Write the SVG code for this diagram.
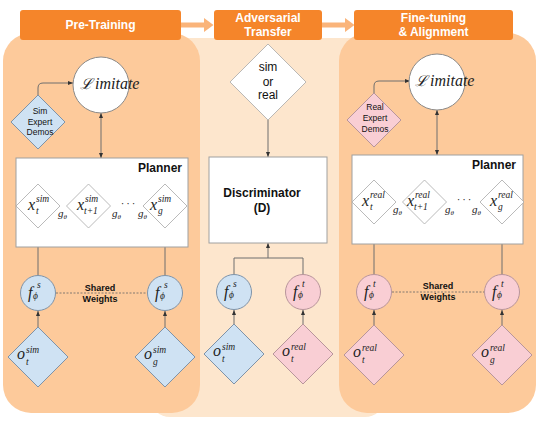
<svg xmlns="http://www.w3.org/2000/svg" width="541" height="421" viewBox="0 0 541 421">
<defs>
<marker id="ar" viewBox="0 0 10 10" refX="10" refY="5" markerWidth="5" markerHeight="5" orient="auto-start-reverse"><path d="M0,1 L10,5 L0,9 z" fill="#333"/></marker>
<style>
.hdr{fill:#f5852a}
.hdrt{font-family:"Liberation Sans",Arial,sans-serif;font-weight:bold;font-size:12px;fill:#fff;text-anchor:middle}
.harr{fill:#fab47a}
.panel{fill:#fdca9b}
.mid{fill:#fde6cd}
.box{fill:#fff;stroke:#a0a0a0;stroke-width:1}
.dw{fill:#fff;stroke:#a8a8a8;stroke-width:0.8}
.blue{fill:#cfe2f3;stroke:#7f93a8;stroke-width:1}
.pink{fill:#f9ced4;stroke:#b8959b;stroke-width:1}
.cw{fill:#fff;stroke:#8a8a8a;stroke-width:1}
.ln{fill:none;stroke:#6e6e6e;stroke-width:1}
.dot{fill:none;stroke:#666;stroke-width:0.8;stroke-dasharray:2,1.5}
.sans{font-family:"Liberation Sans",Arial,sans-serif;fill:#111}
.bold{font-weight:bold}
.m{font-family:"Liberation Serif","Times New Roman",serif;font-style:italic;fill:#222;font-size:16px}
.sm{font-size:9.5px}
.g{font-size:11px}
.th{font-size:7px}
.cal{font-family:"DejaVu Serif","Liberation Serif",serif;font-style:italic;font-size:15px;fill:#222}
</style>
</defs>
<rect width="541" height="421" fill="#fff"/>
<g id="backgrounds">
<rect class="mid" x="150" y="38" width="235" height="379" rx="20"/>
<rect class="panel" x="3" y="33" width="197" height="380" rx="28"/>
<rect class="panel" x="339" y="33" width="197" height="380" rx="28"/>
</g>
<g id="headers">
<path class="harr" d="M181,22.5 H204 V18 L213.5,25 L204,32 V27.5 H181 Z"/>
<path class="harr" d="M322,22.5 H345 V18 L354.5,25 L345,32 V27.5 H322 Z"/>
<g id="h-pretraining"><rect class="hdr" x="20" y="10" width="161" height="30" rx="3"/><text class="hdrt" x="100.5" y="29">Pre-Training</text></g>
<g id="h-adversarial"><rect class="hdr" x="214" y="10" width="108" height="30" rx="3"/><text class="hdrt"><tspan x="268" y="21.5">Adversarial</tspan><tspan x="268" y="36">Transfer</tspan></text></g>
<g id="h-finetuning"><rect class="hdr" x="354" y="10" width="159" height="30" rx="3"/><text class="hdrt"><tspan x="433.5" y="21.5">Fine-tuning</tspan><tspan x="433.5" y="36">&amp; Alignment</tspan></text></g>
</g>
<g id="connectors">
<path class="ln" d="M38,95 V88 Q38,83 43,83 H73" marker-end="url(#ar)"/>
<path class="ln" d="M101,113 V158" marker-start="url(#ar)" marker-end="url(#ar)"/>
<path class="ln" d="M38,275 V228" marker-end="url(#ar)"/>
<path class="ln" d="M165,275 V228" marker-end="url(#ar)"/>
<path class="ln" d="M38,327 V311" marker-end="url(#ar)"/>
<path class="ln" d="M165,327 V311" marker-end="url(#ar)"/>
<path class="dot" d="M56,293 H147"/>
<path class="ln" d="M59,206 H66.5" marker-end="url(#ar)"/>
<path class="ln" d="M110,206 H118" marker-end="url(#ar)"/>
<path class="ln" d="M136,206 H143" marker-end="url(#ar)"/>
<path class="ln" d="M268,120 V157" marker-end="url(#ar)"/>
<path class="ln" d="M234,274.5 V258 H303 V274.5"/>
<path class="ln" d="M268,258 V243" marker-end="url(#ar)"/>
<path class="ln" d="M234,324 V310" marker-end="url(#ar)"/>
<path class="ln" d="M303,324 V310" marker-end="url(#ar)"/>
<path class="ln" d="M374,93 V86 Q374,81 379,81 H410" marker-end="url(#ar)"/>
<path class="ln" d="M437,110 V155" marker-start="url(#ar)" marker-end="url(#ar)"/>
<path class="ln" d="M374,274 V224" marker-end="url(#ar)"/>
<path class="ln" d="M502,274 V224" marker-end="url(#ar)"/>
<path class="ln" d="M374,325 V310" marker-end="url(#ar)"/>
<path class="ln" d="M502,325 V310" marker-end="url(#ar)"/>
<path class="dot" d="M392,292 H484"/>
<path class="ln" d="M396,202 H402.5" marker-end="url(#ar)"/>
<path class="ln" d="M447,202 H455" marker-end="url(#ar)"/>
<path class="ln" d="M472,202 H480" marker-end="url(#ar)"/>
</g>
<g id="pre-training">
<g id="limitate-sim"><circle class="cw" cx="101" cy="85" r="28"/><text x="80" y="89"><tspan class="cal">ℒ</tspan><tspan class="m" font-size="10.5" x="95">imitate</tspan></text></g>
<g id="sim-demos"><path class="blue" d="M38,95 L65,122 L38,149 L11,122 Z"/><text class="sans" font-size="8.5" text-anchor="middle"><tspan x="40" y="114">Sim</tspan><tspan x="40" y="124.5">Expert</tspan><tspan x="40" y="135">Demos</tspan></text></g>
<g id="planner-sim"><rect class="box" x="16" y="158" width="172" height="89"/><text class="sans bold" font-size="12" x="182" y="172" text-anchor="end">Planner</text></g>
<g id="xt-sim"><path class="dw" d="M38,184 L60,206 L38,228 L16,206 Z"/><text class="m" x="28" y="210">x<tspan class="sm" x="36" y="202">sim</tspan><tspan class="sm" x="36" y="213.5">t</tspan></text></g>
<g id="xt1-sim"><path class="dw" d="M88.5,184 L110.5,206 L88.5,228 L66.5,206 Z"/><text class="m" x="77" y="210">x<tspan class="sm" x="85" y="202">sim</tspan><tspan class="sm" x="84" y="213.5">t+1</tspan></text></g>
<g id="xg-sim"><path class="dw" d="M165,184 L187,206 L165,228 L143,206 Z"/><text class="m" x="150" y="210">x<tspan class="sm" x="158" y="202">sim</tspan><tspan class="sm" x="158" y="213.5">g</tspan></text></g>
<text class="m g" x="58" y="217">g<tspan class="th" dy="2">θ</tspan></text>
<text class="m g" x="112" y="217">g<tspan class="th" dy="2">θ</tspan></text>
<text class="m g" x="138" y="217">g<tspan class="th" dy="2">θ</tspan></text>
<text class="m g" x="121" y="207">· · ·</text>
<g id="fs-left"><circle class="blue" cx="38" cy="293" r="17.5"/><text class="m" x="28" y="298">f<tspan class="sm" x="37" y="287.5">s</tspan><tspan class="sm" x="33" y="299">ϕ</tspan></text></g>
<g id="fs-right"><circle class="blue" cx="165" cy="293" r="17.5"/><text class="m" x="155" y="298">f<tspan class="sm" x="164" y="287.5">s</tspan><tspan class="sm" x="160" y="299">ϕ</tspan></text></g>
<text class="sans bold" font-size="9" text-anchor="middle"><tspan x="100" y="291">Shared</tspan><tspan x="100" y="302">Weights</tspan></text>
<g id="ot-sim"><path class="blue" d="M38,327 L68,357 L38,387 L8,357 Z"/><text class="m" x="17" y="359">o<tspan class="sm" x="26" y="353">sim</tspan><tspan class="sm" x="26" y="364.5">t</tspan></text></g>
<g id="og-sim"><path class="blue" d="M165,327 L195,357 L165,387 L135,357 Z"/><text class="m" x="144" y="359">o<tspan class="sm" x="153" y="353">sim</tspan><tspan class="sm" x="153" y="364.5">g</tspan></text></g>
</g>
<g id="adversarial">
<g id="sim-or-real"><path class="dw" d="M268,44 L306,82 L268,120 L230,82 Z"/><text class="sans" font-size="12" text-anchor="middle"><tspan x="268" y="71">sim</tspan><tspan x="268" y="86">or</tspan><tspan x="268" y="99">real</tspan></text></g>
<g id="discriminator"><rect class="box" x="209" y="157" width="118" height="86"/><text class="sans bold" font-size="12" text-anchor="middle"><tspan x="262" y="197">Discriminator</tspan><tspan x="262" y="212">(D)</tspan></text></g>
<g id="fs-mid"><circle class="blue" cx="234" cy="292" r="17.5"/><text class="m" x="224" y="297">f<tspan class="sm" x="233" y="286.5">s</tspan><tspan class="sm" x="229" y="298">ϕ</tspan></text></g>
<g id="ft-mid"><circle class="pink" cx="303" cy="292" r="17.5"/><text class="m" x="293" y="297">f<tspan class="sm" x="302" y="286.5">t</tspan><tspan class="sm" x="298" y="298">ϕ</tspan></text></g>
<g id="ot-sim-mid"><path class="blue" d="M234,324 L264,354 L234,384 L204,354 Z"/><text class="m" x="213" y="356">o<tspan class="sm" x="222" y="350">sim</tspan><tspan class="sm" x="222" y="361.5">t</tspan></text></g>
<g id="ot-real-mid"><path class="pink" d="M303,324 L333,354 L303,384 L273,354 Z"/><text class="m" x="282" y="356">o<tspan class="sm" x="291" y="350">real</tspan><tspan class="sm" x="291" y="361.5">t</tspan></text></g>
</g>
<g id="fine-tuning">
<g id="limitate-real"><circle class="cw" cx="437" cy="82" r="28"/><text x="415" y="86"><tspan class="cal">ℒ</tspan><tspan class="m" font-size="10.5" x="430">imitate</tspan></text></g>
<g id="real-demos"><path class="pink" d="M374,93 L401,120 L374,147 L347,120 Z"/><text class="sans" font-size="8.5" text-anchor="middle"><tspan x="375" y="110">Real</tspan><tspan x="375" y="121">Expert</tspan><tspan x="375" y="132">Demos</tspan></text></g>
<g id="planner-real"><rect class="box" x="352" y="155" width="171" height="89"/><text class="sans bold" font-size="12" x="516" y="169" text-anchor="end">Planner</text></g>
<g id="xt-real"><path class="dw" d="M374,180 L396,202 L374,224 L352,202 Z"/><text class="m" x="362" y="206">x<tspan class="sm" x="370" y="198">real</tspan><tspan class="sm" x="370" y="209.5">t</tspan></text></g>
<g id="xt1-real"><path class="dw" d="M424.5,180 L446.5,202 L424.5,224 L402.5,202 Z"/><text class="m" x="407" y="206">x<tspan class="sm" x="415" y="198">real</tspan><tspan class="sm" x="414" y="209.5">t+1</tspan></text></g>
<g id="xg-real"><path class="dw" d="M502,180 L524,202 L502,224 L480,202 Z"/><text class="m" x="490" y="206">x<tspan class="sm" x="498" y="198">real</tspan><tspan class="sm" x="498" y="209.5">g</tspan></text></g>
<text class="m g" x="393" y="213">g<tspan class="th" dy="2">θ</tspan></text>
<text class="m g" x="445" y="213">g<tspan class="th" dy="2">θ</tspan></text>
<text class="m g" x="472" y="213">g<tspan class="th" dy="2">θ</tspan></text>
<text class="m g" x="457" y="203">· · ·</text>
<g id="ft-left"><circle class="pink" cx="374" cy="292" r="17.5"/><text class="m" x="364" y="297">f<tspan class="sm" x="373" y="286.5">t</tspan><tspan class="sm" x="369" y="298">ϕ</tspan></text></g>
<g id="ft-right"><circle class="pink" cx="502" cy="292" r="17.5"/><text class="m" x="492" y="297">f<tspan class="sm" x="501" y="286.5">t</tspan><tspan class="sm" x="497" y="298">ϕ</tspan></text></g>
<text class="sans bold" font-size="9" text-anchor="middle"><tspan x="438" y="289">Shared</tspan><tspan x="438" y="300">Weights</tspan></text>
<g id="ot-real"><path class="pink" d="M374,325 L404,355 L374,385 L344,355 Z"/><text class="m" x="353" y="357">o<tspan class="sm" x="362" y="351">real</tspan><tspan class="sm" x="362" y="362.5">t</tspan></text></g>
<g id="og-real"><path class="pink" d="M502,325 L532,355 L502,385 L472,355 Z"/><text class="m" x="481" y="357">o<tspan class="sm" x="490" y="351">real</tspan><tspan class="sm" x="490" y="362.5">g</tspan></text></g>
</g>
</svg>
